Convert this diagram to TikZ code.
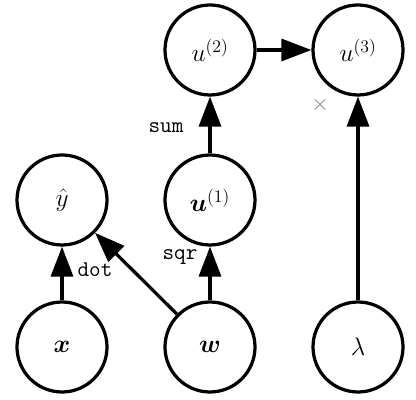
\RequirePackage{fix-cm}
\documentclass[tikz,border=0pt]{standalone}
\usepackage{amsmath,bm}
\usetikzlibrary{arrows.meta}
\tikzset{
  var/.style={circle,draw,line width=2.3pt,minimum size=2.25cm,inner sep=0pt,
    font=\fontsize{18}{22}\selectfont},
  edge/.style={line width=2.3pt,-{Triangle[length=0.75cm,width=0.55cm]}},
  oplabel/.style={font=\fontsize{16}{19}\selectfont\ttfamily}
}
\begin{document}
\begin{tikzpicture}[font=\fontsize{16}{19}\selectfont]
\useasboundingbox (0,0) rectangle (10.4,10);
% inputs
\node[var] (x) at (1.55,1.325) {$\bm{x}$};
\node[var] (w) at (5.25,1.325) {$\bm{w}$};
\node[var] (lam) at (8.95,1.325) {$\lambda$};
% intermediate values
\node[var] (yhat) at (1.55,5.0) {$\hat{y}$};
\node[var] (u1) at (5.25,5.0) {$\bm{u}^{(1)}$};
\node[var] (u2) at (5.25,8.75) {$u^{(2)}$};
\node[var] (u3) at (8.95,8.75) {$u^{(3)}$};
% edges
\draw[edge] (x) -- (yhat);
\draw[edge] (w) -- (yhat);
\draw[edge] (w) -- (u1);
\draw[edge] (u1) -- (u2);
\draw[edge] (u2) -- (u3);
\draw[edge] (lam) -- (u3);
% operation labels
\node[oplabel] (dot) at (2.375,3.25) {dot};
\node[oplabel] (sqr) at (4.5,3.575) {sqr};
\node[oplabel] (sum) at (4.15,6.8) {sum};
\node[text=gray] (times) at (8.0,7.375) {$\times$};
\end{tikzpicture}
\end{document}
